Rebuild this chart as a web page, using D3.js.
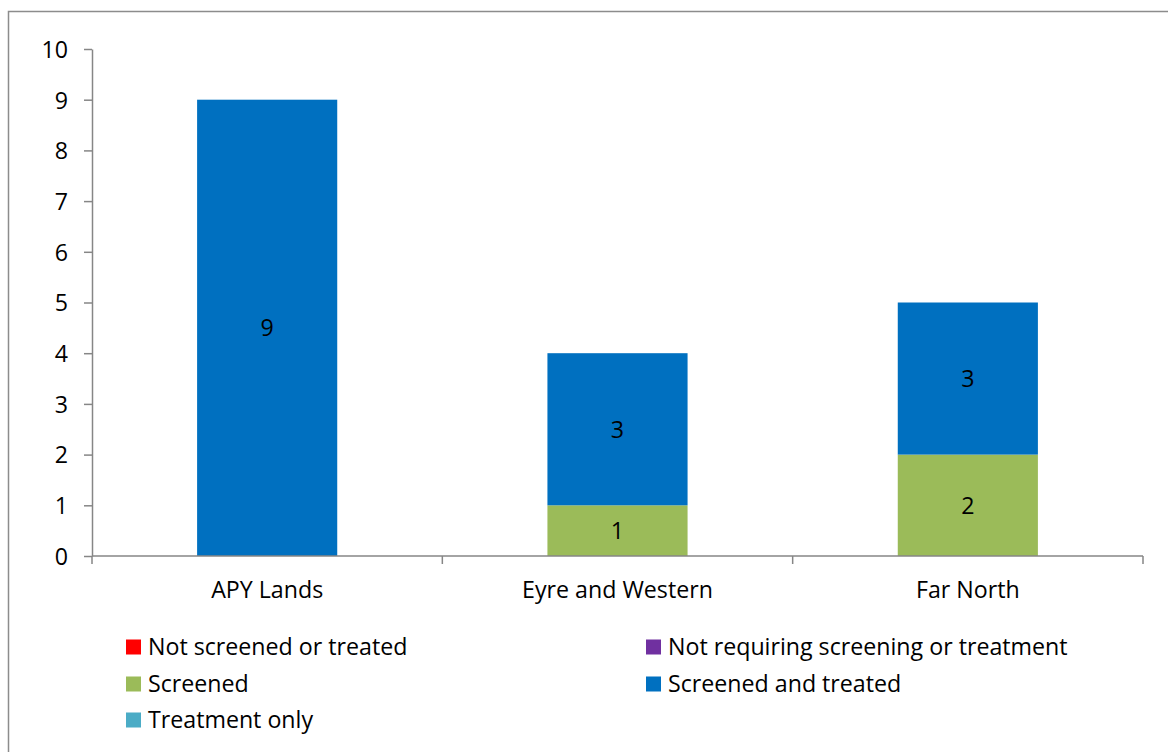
<!DOCTYPE html>
<html><head><meta charset="utf-8">
<script src="https://cdn.jsdelivr.net/npm/d3@7"></script>
<style>body{margin:0;background:#fff;} text{font-family:"Open Sans",Lato,sans-serif;}</style>
</head><body>
<svg id="c" width="1168" height="752"></svg>
<script>
const categories = ["APY Lands", "Eyre and Western", "Far North"];
const seriesNames = ["Not screened or treated", "Not requiring screening or treatment", "Screened", "Screened and treated", "Treatment only"];
const seriesColors = ["#FF0000", "#7030A0", "#9BBB59", "#0070C0", "#4BACC6"];
const notScreened = [0, 0, 0];
const notRequiring = [0, 0, 0];
const screened = [0, 1, 2];
const screenedTreated = [9, 3, 3];
const treatmentOnly = [0, 0, 0];
const yTicks = [0,1,2,3,4,5,6,7,8,9,10];

(function(){
const FS = 23.2;
const seriesValues = [notScreened, notRequiring, screened, screenedTreated, treatmentOnly];
const stackOrder = [2, 3, 0, 1, 4];
const data = categories.map((c, i) => {
  const o = {cat: c};
  seriesNames.forEach((s, j) => o[s] = seriesValues[j][i]);
  return o;
});

const svg = d3.select("#c");
svg.append("path").attr("d", "M8.5,752 V11.5 H1168").attr("fill", "none").attr("stroke", "#8c8c8c").attr("stroke-width", 1.5);

const pL = 92, pR = 1143, pT = 49, pB = 556;
const x = d3.scaleBand().domain(categories).range([pL, pR]).paddingInner(0.6).paddingOuter(0.3);
const y = d3.scaleLinear().domain([0, 10]).range([pB, pT]);

const stack = d3.stack().keys(stackOrder.map(i => seriesNames[i]));
const layers = stack(data);

const g = svg.append("g");
layers.forEach(layer => {
  const idx = seriesNames.indexOf(layer.key);
  layer.forEach((d, i) => {
    const v = d[1] - d[0];
    if (v <= 0) return;
    g.append("rect")
      .attr("x", x(categories[i])).attr("width", x.bandwidth())
      .attr("y", y(d[1])).attr("height", y(d[0]) - y(d[1]))
      .attr("fill", seriesColors[idx]);
    g.append("text")
      .attr("x", x(categories[i]) + x.bandwidth() / 2)
      .attr("y", (y(d[0]) + y(d[1])) / 2)
      .attr("dy", "0.36em").attr("text-anchor", "middle")
      .attr("font-size", FS).attr("fill", "#000").text(v);
  });
});

const ya = svg.append("g").attr("transform", `translate(${pL},0)`)
  .call(d3.axisLeft(y).tickValues(yTicks).tickSize(8).tickPadding(16).tickSizeOuter(0));
ya.select(".domain").attr("stroke", "#868686").attr("stroke-width", 1.5);
ya.selectAll(".tick line").attr("stroke", "#868686").attr("stroke-width", 1.5);
ya.selectAll("text").attr("font-size", FS).attr("fill", "#000").attr("dy", "0.36em").style("font-family", "'Open Sans'");

const xa = svg.append("g").attr("transform", `translate(0,${pB})`);
xa.append("line").attr("x1", pL).attr("x2", pR).attr("y1", 0).attr("y2", 0).attr("stroke", "#868686").attr("stroke-width", 1.5);
const step = (pR - pL) / categories.length;
d3.range(categories.length + 1).forEach(i => {
  xa.append("line").attr("x1", pL + i * step).attr("x2", pL + i * step).attr("y1", 0).attr("y2", 8).attr("stroke", "#868686").attr("stroke-width", 1.5);
});
categories.forEach(c => {
  xa.append("text").attr("x", x(c) + x.bandwidth() / 2).attr("y", 42)
    .attr("text-anchor", "middle").attr("font-size", FS).attr("fill", "#000").text(c);
});

const legPos = [[126, 647], [646, 647], [126, 684], [646, 684], [126, 720]];
seriesNames.forEach((s, i) => {
  const [lx, ly] = legPos[i];
  svg.append("rect").attr("x", lx).attr("y", ly - 7.5).attr("width", 15).attr("height", 15).attr("fill", seriesColors[i]);
  svg.append("text").attr("x", lx + 22).attr("y", ly).attr("dy", "0.36em").attr("font-size", FS).attr("fill", "#000").text(s);
});
})();
</script>
</body></html>
